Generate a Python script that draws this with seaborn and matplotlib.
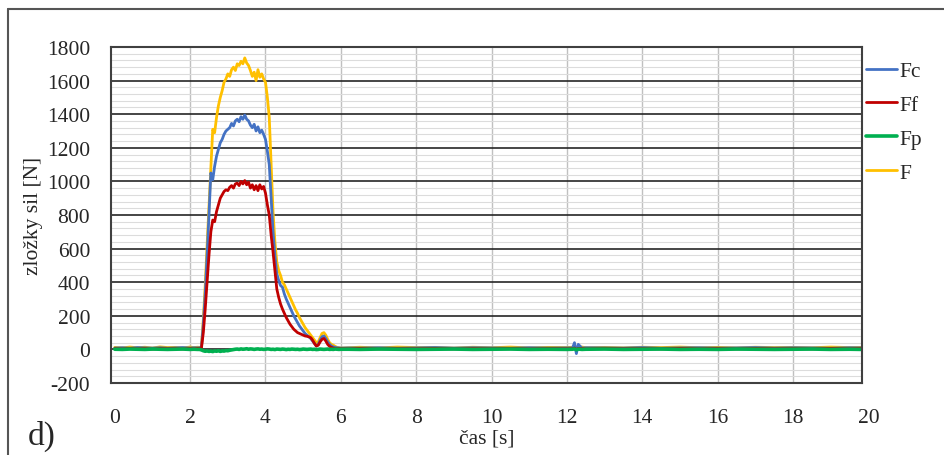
import numpy as np
import pandas as pd
import seaborn as sns
import matplotlib.pyplot as plt
from matplotlib.ticker import MultipleLocator
from matplotlib.lines import Line2D
import matplotlib.transforms as mtransforms

# time axis [s] (dense only where the forces are active)
cas = [0.0, 0.2, 0.4, 0.6, 0.8, 1.0, 1.2, 1.4, 1.6, 1.8, 2.0, 2.1, 2.2,
       2.25, 2.30, 2.35, 2.40, 2.45, 2.50, 2.55, 2.60, 2.65, 2.70,
       2.75, 2.80, 2.85, 2.90, 2.95, 3.00, 3.05, 3.10, 3.15, 3.20,
       3.25, 3.30, 3.35, 3.40, 3.45, 3.50, 3.55, 3.60, 3.65, 3.70,
       3.75, 3.80, 3.85, 3.90, 3.95, 4.00, 4.05, 4.10, 4.15, 4.20,
       4.25, 4.30, 4.35, 4.40, 4.45, 4.50, 4.55, 4.60, 4.65, 4.70,
       4.75, 4.80, 4.85, 4.90, 4.95, 5.00, 5.05, 5.10, 5.15, 5.20,
       5.25, 5.30, 5.35, 5.40, 5.45, 5.50, 5.55, 5.60, 5.65, 5.70,
       5.75, 5.80, 5.85, 5.90, 5.95, 6.00,
       6.2, 6.5, 7.0, 7.5, 8.0, 8.5, 9.0, 9.5, 10.0, 10.5, 11.0, 11.5, 12.0,
       12.15, 12.2, 12.25, 12.3, 12.4, 12.5, 13.0, 13.5, 14.0, 14.5, 15.0,
       15.5, 16.0, 16.5, 17.0, 17.5, 18.0, 18.5, 19.0, 19.5, 19.8]

F = [12, 9, 14, 10, 13, 8, 15, 11, 12, 9, 14, 11, 13,
     12, 15, 180, 380, 620, 850, 1080, 1310, 1290, 1380,
     1450, 1500, 1540, 1590, 1610, 1640, 1625, 1665, 1680, 1660,
     1700, 1690, 1715, 1700, 1735, 1705, 1690, 1660, 1625, 1650,
     1600, 1665, 1620, 1640, 1610, 1590, 1500, 1380, 1100, 820,
     640, 520, 470, 440, 400, 385, 360, 335, 310, 285,
     260, 235, 215, 190, 170, 150, 130, 115, 100, 85,
     70, 55, 40, 45, 70, 95, 100, 85, 60, 40,
     30, 25, 18, 12, 10, 8,
     10, 13, 9, 14, 11, 12, 8, 13, 10, 14, 9, 12, 11,
     13, 10, 12, 11, 14, 10, 12, 9, 13, 11, 14,
     10, 12, 9, 13, 11, 12, 10, 14, 11, 12]

Fc = [8, 10, 7, 11, 9, 8, 10, 7, 9, 11, 8, 10, 9,
      10, 12, 150, 330, 560, 800, 1050, 1010, 1090, 1150,
      1190, 1230, 1250, 1280, 1300, 1310, 1320, 1345, 1330, 1360,
      1370, 1355, 1385, 1370, 1395, 1370, 1360, 1335, 1320, 1340,
      1300, 1325, 1290, 1305, 1280, 1250, 1180, 1100, 900, 700,
      560, 450, 410, 380, 370, 330, 300, 275, 250, 225,
      200, 180, 160, 140, 125, 110, 95, 85, 75, 65,
      50, 35, 20, 30, 55, 75, 80, 65, 45, 30,
      20, 15, 12, 10, 9, 8,
      9, 8, 10, 7, 9, 11, 8, 10, 9, 7, 10, 8, 9,
      9, 40, -25, 30, 8, 10, 9, 8, 11, 7, 9,
      10, 8, 9, 11, 8, 10, 9, 7, 10, 9]

Ff = [5, 3, 6, 4, 5, 2, 6, 4, 5, 3, 5, 4, 6,
      5, 8, 100, 240, 400, 560, 700, 770, 760, 820,
      860, 900, 920, 940, 950, 945, 965, 975, 960, 985,
      990, 975, 1000, 985, 1005, 980, 995, 960, 980, 950,
      975, 945, 980, 955, 970, 930, 860, 800, 680, 580,
      470, 360, 310, 270, 240, 215, 190, 170, 150, 135,
      120, 110, 100, 95, 90, 85, 80, 78, 75, 70,
      55, 35, 20, 25, 45, 60, 65, 50, 30, 18,
      12, 8, 6, 5, 5, 5,
      4, 6, 3, 5, 4, 6, 3, 5, 4, 6, 3, 5, 4,
      4, 8, 0, 6, 5, 3, 6, 4, 5, 3, 6,
      4, 5, 3, 6, 4, 5, 3, 6, 4, 5]

Fp = [1, 0, 2, 1, 0, 2, 1, 0, 1, 2, 0, 1, 0,
      0, -3, -8, -11, -9, -12, -10, -13, -9, -11,
      -8, -12, -9, -10, -7, -8, -5, -3, -1, 1,
      2, 0, 3, 1, 2, 4, 1, 3, 2, 0,
      2, 3, 1, 2, 0, 1, 3, 2, 0, 1,
      -1, 2, 1, 0, 2, 1, -1, 1, 0, 2,
      1, 0, 1, -1, 0, 2, 1, 0, 1, 2,
      0, 1, -1, 0, 2, 1, 0, 1, 2, 0,
      1, 0, 2, 1, 0, 1,
      1, 0, 2, 1, 0, 1, 2, 0, 1, 2, 0, 1, 0,
      1, 3, -3, 2, 0, 1, 2, 0, 1, 2, 0,
      1, 0, 2, 1, 0, 1, 2, 0, 1, 0]

series = {"F": F, "Fc": Fc, "Ff": Ff, "Fp": Fp}
colors = {"Fc": "#4472C4", "Ff": "#C00000", "Fp": "#00B050", "F": "#FFC000"}
legend_order = ["Fc", "Ff", "Fp", "F"]

df = pd.concat([pd.DataFrame({"cas": cas, "sila": v, "serie": k})
                for k, v in series.items()], ignore_index=True)

sns.set_style("white")
plt.rcParams["font.family"] = ["Liberation Serif", "DejaVu Serif"]
plt.rcParams["axes.unicode_minus"] = False

fig = plt.figure(figsize=(9.45, 4.56), dpi=100)
ax = fig.add_axes([111 / 945, 72 / 456, 751 / 945, 336 / 456])

sns.lineplot(data=df, x="cas", y="sila", hue="serie", hue_order=["F", "Fc", "Ff", "Fp"],
             palette=colors, estimator=None, sort=False, linewidth=2.0, ax=ax)
for ln in ax.get_lines():
    if ln.get_color() == colors["Fp"]:
        ln.set_linewidth(2.6)

# axes, grid
ax.set_xlim(-0.1, 19.83)
ax.set_ylim(-200, 1800)
ax.set_xticks(range(0, 19, 2))
ax.set_yticks(range(-200, 1801, 200))
ax.yaxis.set_minor_locator(MultipleLocator(40))
ax.grid(which="major", axis="y", color="#262626", linewidth=1.2)
ax.grid(which="minor", axis="y", color="#dcdcdc", linewidth=0.8)
ax.grid(which="major", axis="x", color="#c0c0c0", linewidth=1.0)
ax.set_axisbelow(True)
ax.xaxis.get_gridlines()[0].set_visible(False)
xpad = 18
ax.tick_params(axis="both", which="both", length=0, labelsize=15.5)
ax.tick_params(axis="x", pad=xpad)
ax.tick_params(axis="y", pad=15)
for s in ax.spines.values():
    s.set_visible(True)
    s.set_color("#404040")
    s.set_linewidth(1.5)

# the last tick label sits just past the plot frame
trans = ax.get_xaxis_transform() + mtransforms.ScaledTranslation(0, -xpad / 72, fig.dpi_scale_trans)
ax.text(20, 0, "20", transform=trans, ha="center", va="top", fontsize=15.5, clip_on=False)

ax.set_xlabel("čas [s]", fontsize=15.5, labelpad=1)
ax.set_ylabel("zložky sil [N]", fontsize=15.5, labelpad=3)

handles, labels = ax.get_legend_handles_labels()
hmap = dict(zip(labels, handles))
ax.legend([hmap[k] for k in legend_order], legend_order, loc="upper left",
          bbox_to_anchor=(866 / 945, 1 - 62 / 456), bbox_transform=fig.transFigure,
          frameon=False, fontsize=15.5, handlelength=1.45, handletextpad=0.1,
          labelspacing=0.64, borderaxespad=0, borderpad=0)

fig.text(42 / 945, 1 - 436 / 456, "d)", fontsize=24, ha="center", va="center")

# outer frame of the figure panel
fig.add_artist(Line2D([8 / 945, 1], [1 - 10 / 456, 1 - 10 / 456], color="#555555", lw=1.5))
fig.add_artist(Line2D([8 / 945, 8 / 945], [0, 1 - 10 / 456], color="#555555", lw=1.5))

fig.savefig("out.png", dpi=100)
